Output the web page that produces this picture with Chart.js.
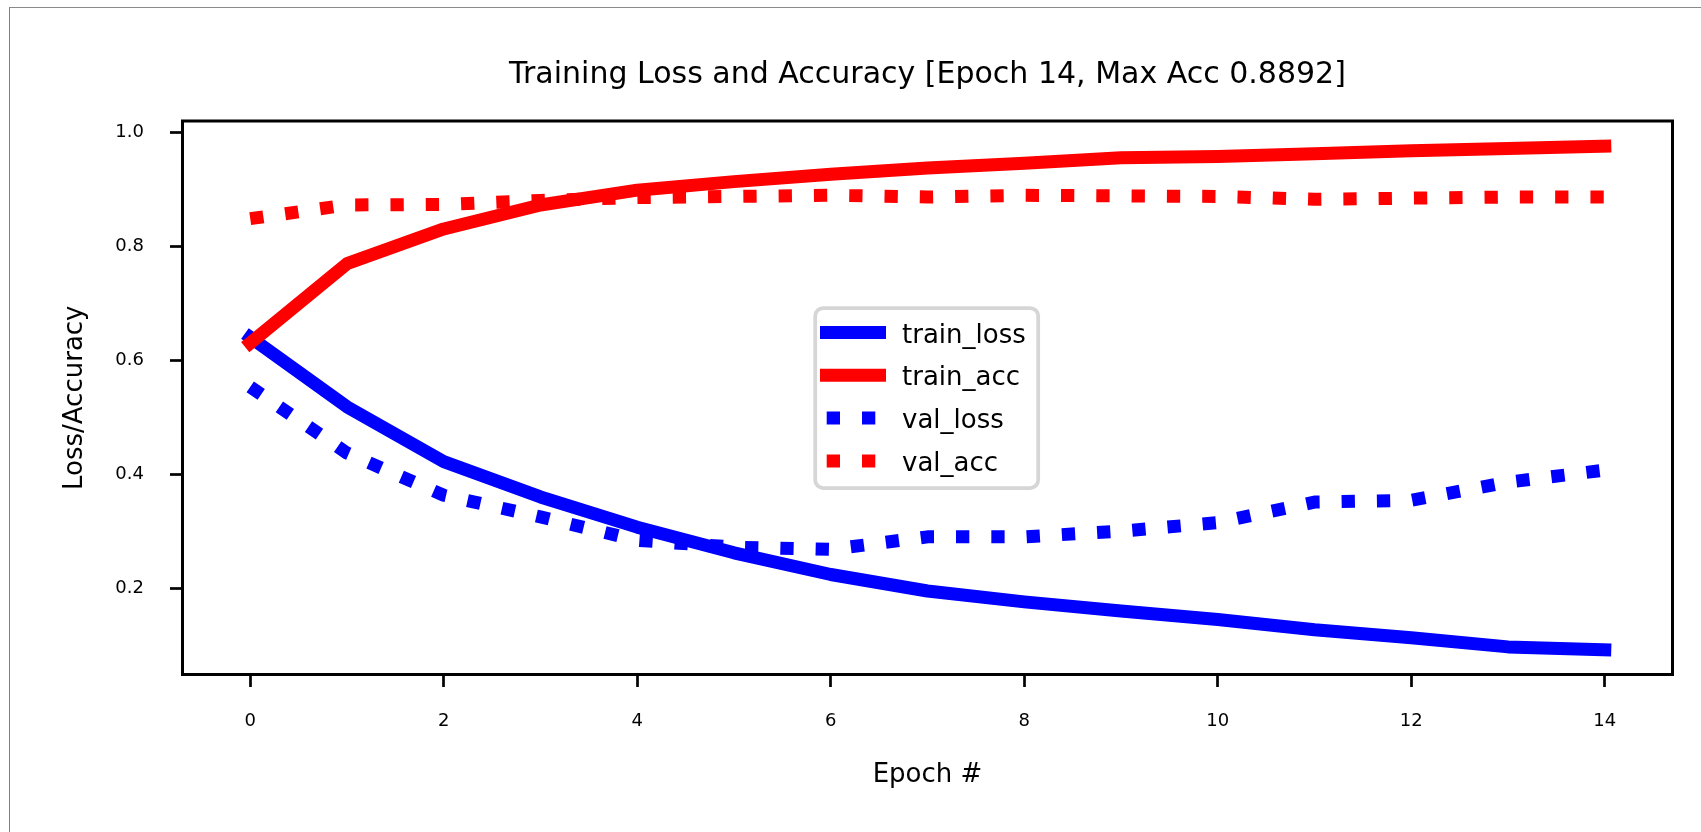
<!DOCTYPE html>
<html>
<head>
<meta charset="utf-8">
<title>Training Loss and Accuracy</title>
<script src="https://cdn.jsdelivr.net/npm/chart.js@4.4.1/dist/chart.umd.min.js"></script>
<style>
  html, body { margin: 0; padding: 0; background: #fff; }
  #wrap { position: relative; width: 1701px; height: 832px; overflow: hidden; }
  #frame {
    position: absolute; left: 9px; top: 7px; right: -2px; bottom: -2px;
    border-left: 1px solid #808080; border-top: 1px solid #8a8a8a;
    pointer-events: none;
  }
</style>
</head>
<body>
<div id="wrap">
  <canvas id="chart" width="1701" height="832"></canvas>
  <div id="frame"></div>
</div>
<script>
/* ── data ── */
const EPOCHS     = [0, 1, 2, 3, 4, 5, 6, 7, 8, 9, 10, 11, 12, 13, 14];
const TRAIN_LOSS = [0.640, 0.518, 0.422, 0.360, 0.307, 0.262, 0.224, 0.195, 0.176, 0.160, 0.145, 0.127, 0.113, 0.097, 0.092];
const TRAIN_ACC  = [0.630, 0.769, 0.830, 0.872, 0.898, 0.913, 0.926, 0.937, 0.945, 0.955, 0.957, 0.962, 0.967, 0.971, 0.975];
const VAL_LOSS   = [0.553, 0.437, 0.363, 0.325, 0.284, 0.272, 0.268, 0.290, 0.290, 0.300, 0.315, 0.351, 0.354, 0.386, 0.407];
const VAL_ACC    = [0.848, 0.872, 0.873, 0.880, 0.885, 0.887, 0.889, 0.886, 0.889, 0.888, 0.887, 0.882, 0.884, 0.886, 0.886];

const TITLE   = 'Training Loss and Accuracy [Epoch 14, Max Acc 0.8892]';
const X_LABEL = 'Epoch #';
const Y_LABEL = 'Loss/Accuracy';

const SERIES = [
  { label: 'train_loss', values: TRAIN_LOSS, color: '#0000ff', dotted: false },
  { label: 'train_acc',  values: TRAIN_ACC,  color: '#ff0000', dotted: false },
  { label: 'val_loss',   values: VAL_LOSS,   color: '#0000ff', dotted: true  },
  { label: 'val_acc',    values: VAL_ACC,    color: '#ff0000', dotted: true  },
];

const FONT = 'DejaVu Sans';
const LW = 13;              // line width of every series
const DOTS = [13.3, 22];    // matplotlib ':' pattern at this width

/* ── spines on all four sides, drawn over the lines ── */
const spines = {
  id: 'spines',
  afterDatasetsDraw(chart) {
    const { ctx, chartArea: a } = chart;
    ctx.save();
    ctx.strokeStyle = '#000';
    ctx.lineWidth = 3;
    ctx.strokeRect(a.left, a.top, a.right - a.left, a.bottom - a.top);
    ctx.restore();
  },
};

/* ── matplotlib-style legend box in the middle of the axes ── */
const boxLegend = {
  id: 'boxLegend',
  afterDraw(chart) {
    const { ctx } = chart;
    ctx.save();
    ctx.beginPath();
    ctx.roundRect(815.2, 308, 223, 180, 8);
    ctx.fillStyle = 'rgba(255,255,255,0.8)';
    ctx.fill();
    ctx.lineWidth = 3.75;
    ctx.strokeStyle = '#d6d6d6';
    ctx.stroke();

    ctx.font = `26px "${FONT}"`;
    ctx.textBaseline = 'alphabetic';
    ctx.textAlign = 'left';
    SERIES.forEach((s, i) => {
      const y = 332.5 + i * 42.8;
      ctx.beginPath();
      ctx.strokeStyle = s.color;
      ctx.lineWidth = LW;
      ctx.lineCap = 'butt';
      if (s.dotted) { ctx.setLineDash(DOTS); ctx.lineDashOffset = 28.6; }
      else ctx.setLineDash([]);
      ctx.moveTo(820, y);
      ctx.lineTo(886, y);
      ctx.stroke();
      ctx.setLineDash([]);
      ctx.fillStyle = '#000';
      ctx.fillText(s.label, 902, y + 10);
    });
    ctx.restore();
  },
};

/* ── build chart ── */
const datasets = SERIES.map((s, idx) => ({
  label: s.label,
  data: EPOCHS.map((e, i) => ({ x: e, y: s.values[i] })),
  borderColor: s.color,
  backgroundColor: s.color,
  borderWidth: LW,
  borderDash: s.dotted ? DOTS : [],
  borderCapStyle: s.dotted ? 'butt' : 'square',
  borderJoinStyle: 'round',
  pointRadius: 0,
  tension: 0,
  fill: false,
  order: SERIES.length - idx,   // later series on top, as in matplotlib
}));

new Chart(document.getElementById('chart').getContext('2d'), {
  type: 'line',
  data: { datasets },
  plugins: [spines, boxLegend],
  options: {
    responsive: false,
    animation: false,
    layout: { padding: { top: 0, right: 28.5, bottom: 0, left: 0 } },
    plugins: {
      legend: { display: false },
      tooltip: { enabled: false },
      title: {
        display: true,
        text: TITLE,
        fullSize: false,
        color: '#000',
        font: { family: FONT, size: 30, weight: 'normal' },
        padding: { top: 57.5, bottom: 27.5 },
      },
    },
    scales: {
      x: {
        type: 'linear',
        min: -0.7, max: 14.7,
        afterFit: s => { s.height = 157.5; },
        border: { display: false },
        grid: { drawOnChartArea: false, drawTicks: true, tickLength: 12.5, tickWidth: 2.7, tickColor: '#000' },
        ticks: {
          stepSize: 2, includeBounds: false, padding: 24,
          color: '#000', font: { family: FONT, size: 18 },
          callback: v => String(v),
        },
        title: {
          display: true, text: X_LABEL, color: '#000',
          font: { family: FONT, size: 26 },
          padding: { top: 0, bottom: 41 },
        },
      },
      y: {
        min: 0.0486, max: 1.0193,
        afterFit: s => { s.width = 182.5; },
        border: { display: false },
        grid: { drawOnChartArea: false, drawTicks: true, tickLength: 12.5, tickWidth: 2.7, tickColor: '#000' },
        ticks: {
          stepSize: 0.2, includeBounds: false, padding: 26,
          color: '#000', font: { family: FONT, size: 18 },
          callback: v => v.toFixed(1),
        },
        title: {
          display: true, text: Y_LABEL, color: '#000',
          font: { family: FONT, size: 26 },
          padding: { top: 60, bottom: 0 },
        },
      },
    },
  },
});
</script>
</body>
</html>
